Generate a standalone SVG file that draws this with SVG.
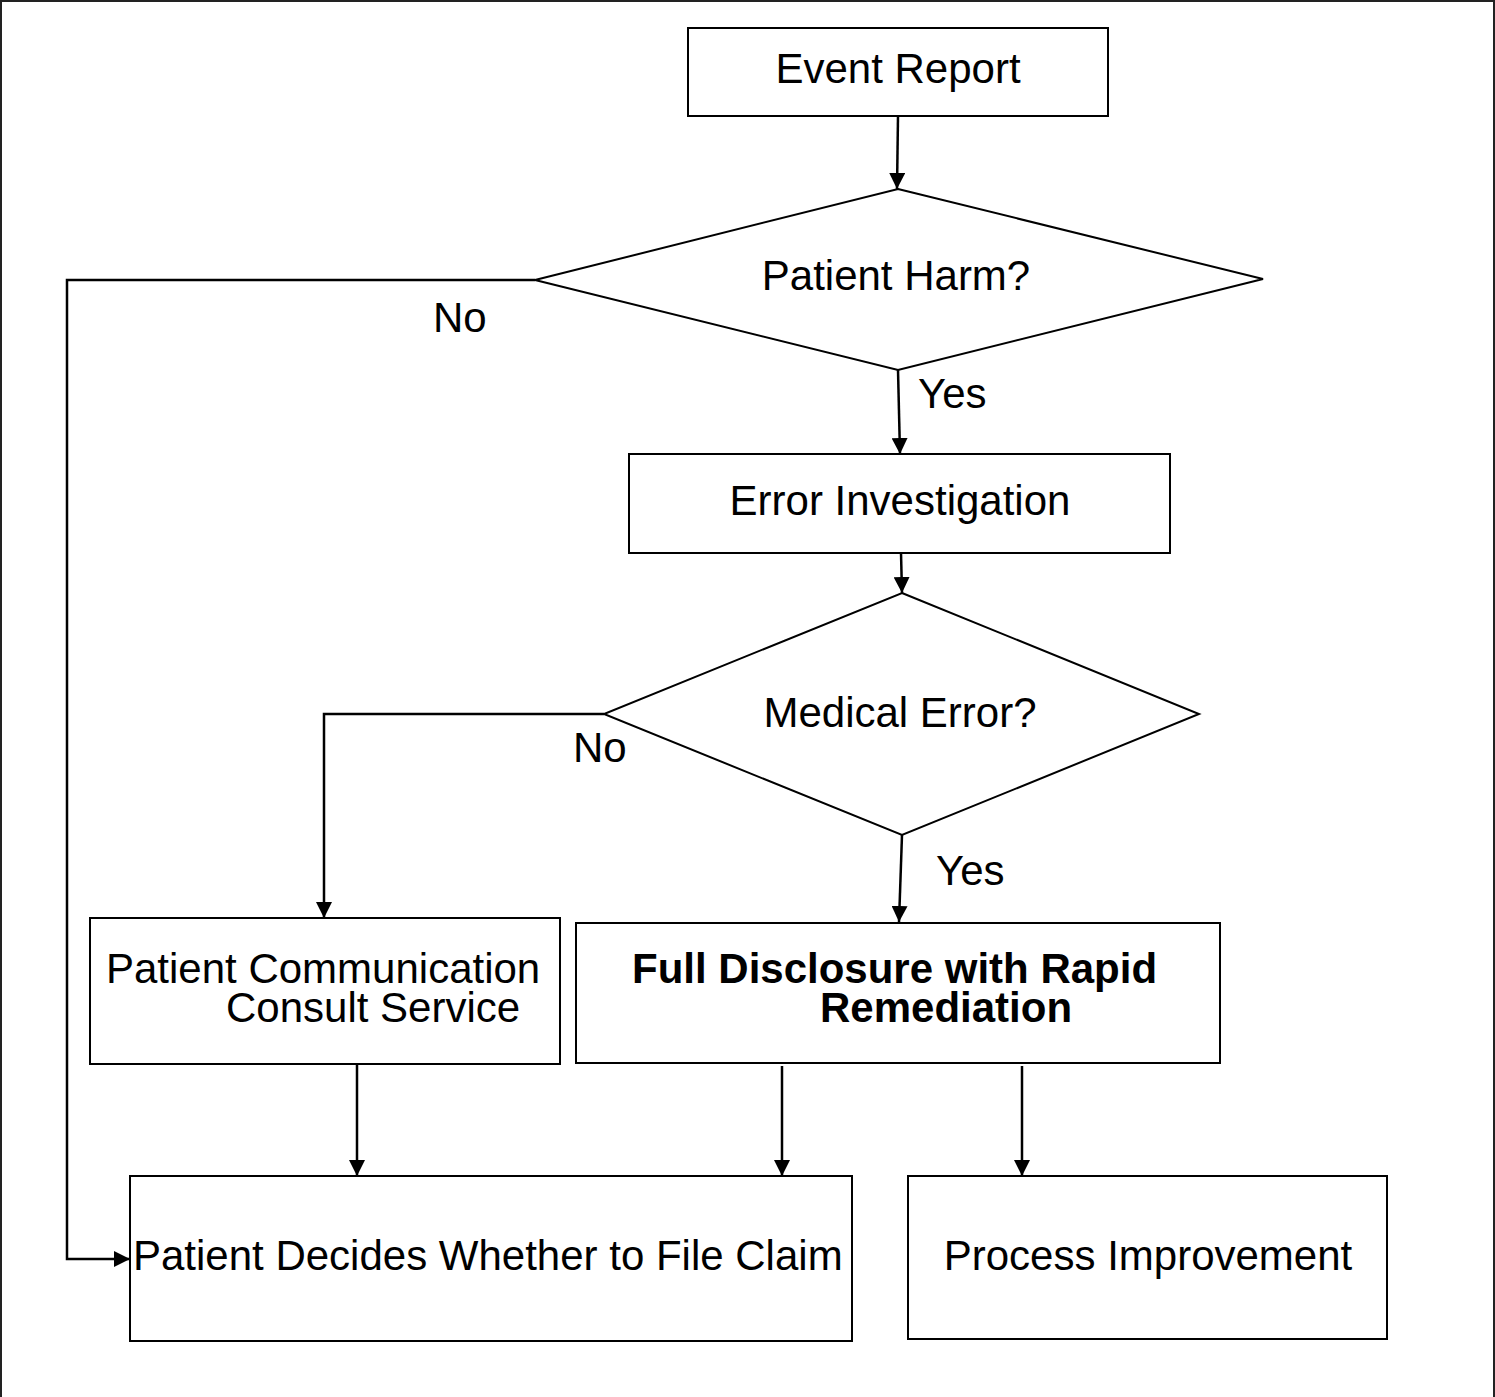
<svg xmlns="http://www.w3.org/2000/svg" width="1495" height="1397" viewBox="0 0 1495 1397">
<defs>
<style>
.box{fill:#fff;stroke:#000;stroke-width:2}
.t{font-family:"Liberation Sans",Arial,sans-serif;font-size:42px;fill:#000}
.c{text-anchor:middle}
.b{font-weight:bold}
.ln{fill:none;stroke:#000;stroke-width:2.5}
</style>
<marker id="ah" markerUnits="userSpaceOnUse" viewBox="0 0 16 16" refX="16" refY="8" markerWidth="16" markerHeight="16" orient="auto">
<path d="M0,0 L16,8 L0,16 z" fill="#000"/>
</marker>
</defs>
<rect x="0" y="0" width="1495" height="1397" fill="#fff"/>
<rect x="1" y="1" width="1493" height="1430" fill="none" stroke="#222" stroke-width="2"/>

<g id="connectors">
<path class="ln" d="M898,116 L897,189" marker-end="url(#ah)"/>
<path class="ln" d="M535,280 L67,280 L67,1259 L130,1259" marker-end="url(#ah)"/>
<path class="ln" d="M898,370 L900,454" marker-end="url(#ah)"/>
<path class="ln" d="M901,553 L902,593" marker-end="url(#ah)"/>
<path class="ln" d="M604,714 L324,714 L324,918" marker-end="url(#ah)"/>
<path class="ln" d="M902,835 L899,922" marker-end="url(#ah)"/>
<path class="ln" d="M357,1065 L357,1176" marker-end="url(#ah)"/>
<path class="ln" d="M782,1066 L782,1176" marker-end="url(#ah)"/>
<path class="ln" d="M1022,1066 L1022,1176" marker-end="url(#ah)"/>
<text class="t" x="433" y="332">No</text>
<text class="t" x="918" y="408">Yes</text>
<text class="t" x="573" y="762">No</text>
<text class="t" x="936" y="885">Yes</text>
</g>

<g id="event-report">
<rect class="box" x="688" y="28" width="420" height="88"/>
<text class="t c" x="898" y="83">Event Report</text>
</g>

<g id="patient-harm">
<polygon class="box" points="898,189 1263,279 898,370 535,280"/>
<text class="t c" x="896" y="290">Patient Harm?</text>
</g>

<g id="error-investigation">
<rect class="box" x="629" y="454" width="541" height="99"/>
<text class="t c" x="900" y="515">Error Investigation</text>
</g>

<g id="medical-error">
<polygon class="box" points="902,593 1199,714 902,835 604,714"/>
<text class="t c" x="900" y="727">Medical Error?</text>
</g>

<g id="pccs">
<rect class="box" x="90" y="918" width="470" height="146"/>
<text class="t" x="106" y="983">Patient Communication</text>
<text class="t" x="226" y="1022">Consult Service</text>
</g>

<g id="full-disclosure">
<rect class="box" x="576" y="923" width="644" height="140"/>
<text class="t b" x="632" y="983">Full Disclosure with Rapid</text>
<text class="t b" x="820" y="1022">Remediation</text>
</g>

<g id="patient-decides">
<rect class="box" x="130" y="1176" width="722" height="165"/>
<text class="t" x="133" y="1270">Patient Decides Whether to File Claim</text>
</g>

<g id="process-improvement">
<rect class="box" x="908" y="1176" width="479" height="163"/>
<text class="t c" x="1148" y="1270">Process Improvement</text>
</g>
</svg>
